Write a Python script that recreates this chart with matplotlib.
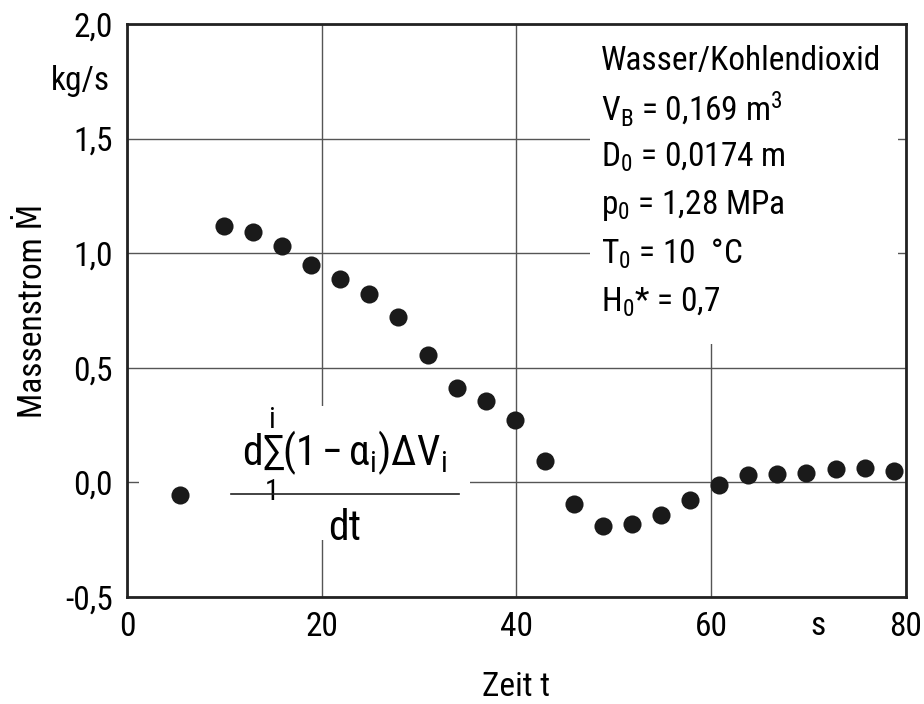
import matplotlib
matplotlib.use('Agg')
import matplotlib.pyplot as plt
from matplotlib.patches import Rectangle

plt.rcParams['font.family'] = ['Roboto Condensed', 'DejaVu Sans']
plt.rcParams['font.stretch'] = 'condensed'
plt.rcParams['mathtext.fontset'] = 'custom'
plt.rcParams['mathtext.rm'] = 'Roboto Condensed'
plt.rcParams['mathtext.it'] = 'Roboto Condensed'

# measured mass flow vs time
zeit = [5.4, 10.0, 12.9, 15.9, 18.9, 21.9, 24.9, 27.8, 30.9, 33.9, 36.9, 39.9,
        42.9, 45.9, 48.9, 51.9, 54.8, 57.8, 60.8, 63.8, 66.8, 69.7, 72.8, 75.8, 78.8]
massenstrom = [-0.057, 1.117, 1.091, 1.03, 0.947, 0.886, 0.82, 0.72, 0.554, 0.41,
               0.353, 0.27, 0.092, -0.096, -0.192, -0.183, -0.144, -0.079, -0.013,
               0.031, 0.035, 0.039, 0.057, 0.061, 0.048]

x_ticks = [0, 20, 40, 60, 80]
y_ticks = [-0.5, 0.0, 0.5, 1.0, 1.5, 2.0]
y_labels = ['-0,5', '0,0', '0,5', '1,0', '1,5', '2,0']

info_lines = [
    'Wasser/Kohlendioxid',
    r'$\mathrm{V_B}$ = 0,169 m$^3$',
    r'$\mathrm{D_0}$ = 0,0174 m',
    r'$\mathrm{p_0}$ = 1,28 MPa',
    r'$\mathrm{T_0}$ = 10  °C',
    r'$\mathrm{H_0}$* = 0,7',
]

fs = 24

fig = plt.figure(figsize=(9.24, 7.04), dpi=100)
ax = fig.add_axes([0.1374, 0.152, 0.843, 0.814])

ax.scatter(zeit, massenstrom, s=170, color='#1a1a1a', zorder=4, linewidths=0)

ax.set_xlim(0, 80)
ax.set_ylim(-0.5, 2.0)
ax.set_xticks(x_ticks)
ax.set_xticklabels([str(v) for v in x_ticks])
ax.set_yticks(y_ticks)
ax.set_yticklabels(y_labels)
ax.tick_params(length=0, labelsize=fs)
ax.tick_params(axis='x', pad=10)
ax.tick_params(axis='y', pad=10)
ax.set_axisbelow(True)
ax.grid(True, color='#555555', linewidth=1.0)
for sp in ax.spines.values():
    sp.set_linewidth(2.0)
    sp.set_color('#222222')

# white areas behind the annotations (cover the grid)
ax.add_patch(Rectangle((0.595, 0.442), 0.395, 0.556, transform=ax.transAxes,
                       facecolor='white', edgecolor='none', zorder=1))
ax.add_patch(Rectangle((0.015, 0.10), 0.425, 0.234, transform=ax.transAxes,
                       facecolor='white', edgecolor='none', zorder=1))

# info block
y0 = 0.935
for k, line in enumerate(info_lines):
    ax.text(0.608, y0 - k * 0.084, line, transform=ax.transAxes, fontsize=fs,
            ha='left', va='center', zorder=5)

# formula
ax.text(0.2795, 0.25, r'$\mathrm{d}\sum_{1}^{i}(1-\alpha_{i})\Delta\mathrm{V}_{i}$',
        transform=ax.transAxes, fontsize=30, ha='center', va='center', zorder=5)
ax.plot([0.133, 0.426], [0.179, 0.179], transform=ax.transAxes, color='#222222',
        linewidth=1.2, zorder=5, clip_on=False)
ax.text(0.2795, 0.12, 'dt', transform=ax.transAxes, fontsize=30,
        ha='center', va='center', zorder=5)

# units
ax.text(0.887, -0.022, 's', transform=ax.transAxes, fontsize=fs,
        ha='center', va='top')
ax.text(-0.022, 0.9, 'kg/s', transform=ax.transAxes, fontsize=fs,
        ha='right', va='center')

ax.set_xlabel('Zeit t', fontsize=fs, labelpad=20)
ax.set_ylabel('Massenstrom \u1E40', fontsize=fs, labelpad=12)

fig.savefig('out.png', dpi=100)
